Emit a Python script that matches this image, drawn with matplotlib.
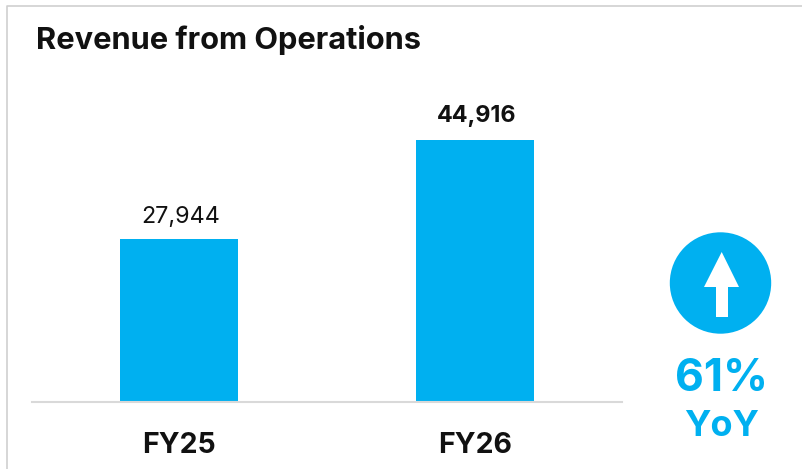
import matplotlib
matplotlib.use('Agg')
import matplotlib.pyplot as plt
from matplotlib.patches import Circle, Polygon

categories = ['FY25', 'FY26']
revenue = [27944, 44916]
value_labels = ['27,944', '44,916']
title = 'Revenue from Operations'
growth = '61%'
growth_note = 'YoY'

blue = '#00B0F0'
plt.rcParams['font.family'] = ['Inter', 'DejaVu Sans']

W, H = 802, 469
fig = plt.figure(figsize=(W / 100, H / 100), dpi=100, facecolor='white')

# bars: axes spans the baseline rule in pixels
ax = fig.add_axes([32 / W, 1 - 402 / H, (622 - 32) / W, (402 - 100) / H])
ax.bar([0, 1], revenue, width=0.4, color=blue)
ax.set_xlim(-0.497, 1.497)
ax.set_ylim(0, 44916 * 302 / 262)
ax.set_xticks([0, 1], categories, fontsize=20.5, fontweight='bold', color='#111111')
ax.tick_params(axis='x', length=0, pad=21.5)
ax.set_yticks([])
for s in ['top', 'left', 'right']:
    ax.spines[s].set_visible(False)
ax.spines['bottom'].set_color('#D9D9D9')
ax.spines['bottom'].set_linewidth(1.5)

ax.annotate(value_labels[0], (0.005, revenue[0]), xytext=(0, 11.5), textcoords='offset points',
            ha='center', fontsize=16.8, color='#111111')
ax.annotate(value_labels[1], (1.005, revenue[1]), xytext=(0, 13), textcoords='offset points',
            ha='center', fontsize=16.8, fontweight='bold', color='#111111')

# overlay in pixel coords for the title, frame and the growth badge
ov = fig.add_axes([0, 0, 1, 1], facecolor='none')
ov.set_xlim(0, W)
ov.set_ylim(H, 0)
ov.axis('off')
ov.plot([6.5, 6.5, 802], [469, 6.5, 6.5], color='#CFCFCF', lw=1.2)
ov.text(36, 40, title, fontsize=22.2, fontweight='bold', color='#111111', va='center')
ov.add_patch(Circle((720.5, 283), 50.7, color=blue, lw=0))
ov.add_patch(Polygon([(721.7, 252), (739, 287), (728, 287), (728, 317), (716, 317), (716, 287), (704, 287)],
                     closed=True, color='white', lw=0))
ov.text(721.5, 379, growth, fontsize=32, fontweight='bold', color=blue, ha='center', va='center')
ov.text(721.5, 426, growth_note, fontsize=26, fontweight='bold', color=blue, ha='center', va='center')

fig.savefig('out.png', dpi=100)
